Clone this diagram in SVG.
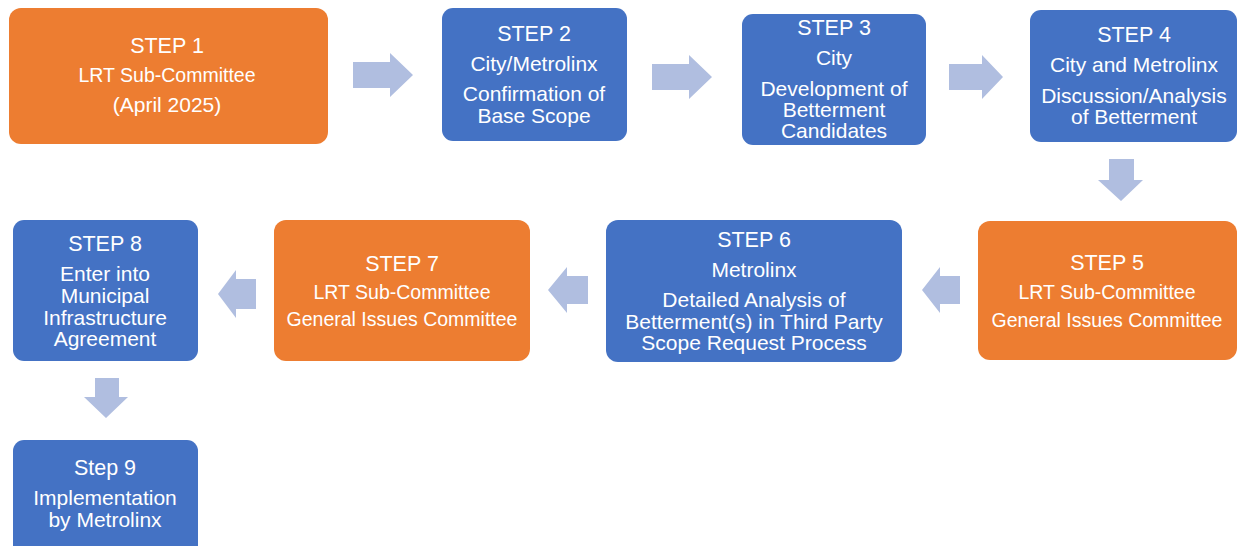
<svg xmlns="http://www.w3.org/2000/svg" width="1238" height="546" viewBox="0 0 1238 546">
<style>
.o{fill:#ED7D31}
.b{fill:#4472C4}
.a{fill:#B0BEE0}
text{font-family:"Liberation Sans",Arial,sans-serif;fill:#fff;text-anchor:middle;font-size:21px}
.h{font-size:21.5px}
.s{font-size:19.5px}
</style>
<rect width="1238" height="546" fill="#fff"/>
<g id="connectors">
<polygon class="a" points="353,62 390,62 390,53 413,75 390,97 390,88 353,88"/>
<polygon class="a" points="652,64 689,64 689,55 712,77 689,99 689,90 652,90"/>
<polygon class="a" points="949,64 982,64 982,55 1003,77 982,99 982,90 949,90"/>
<polygon class="a" points="1109,159 1134,159 1134,180 1143,180 1121,201 1098,180 1109,180"/>
<polygon class="a" points="960,276 940,276 940,267 922,290 940,313 940,304 960,304"/>
<polygon class="a" points="588,276 567,276 567,267 548,290 567,313 567,304 588,304"/>
<polygon class="a" points="256,279 236,279 236,270 218,294 236,318 236,309 256,309"/>
<polygon class="a" points="95,378 119,378 119,397 128,397 106,418 84,397 95,397"/>
</g>
<g id="step1">
<rect class="o" x="9" y="8" width="319" height="136" rx="12"/>
<text class="h" x="167" y="53">STEP 1</text>
<text class="s" x="167" y="82">LRT Sub-Committee</text>
<text x="167" y="112">(April 2025)</text>
</g>
<g id="step2">
<rect class="b" x="442" y="8" width="185" height="133" rx="11"/>
<text class="h" x="534" y="41">STEP 2</text>
<text x="534" y="71">City/Metrolinx</text>
<text x="534" y="101">Confirmation of</text>
<text x="534" y="123">Base Scope</text>
</g>
<g id="step3">
<rect class="b" x="742" y="14" width="184" height="131" rx="11"/>
<text class="h" x="834" y="35">STEP 3</text>
<text x="834" y="65">City</text>
<text x="834" y="96">Development of</text>
<text x="834" y="117">Betterment</text>
<text x="834" y="138">Candidates</text>
</g>
<g id="step4">
<rect class="b" x="1030" y="10" width="207" height="132" rx="11"/>
<text class="h" x="1134" y="42">STEP 4</text>
<text x="1134" y="72">City and Metrolinx</text>
<text x="1134" y="103">Discussion/Analysis</text>
<text x="1134" y="124">of Betterment</text>
</g>
<g id="step5">
<rect class="o" x="978" y="221" width="259" height="139" rx="12"/>
<text class="h" x="1107" y="270">STEP 5</text>
<text class="s" x="1107" y="299">LRT Sub-Committee</text>
<text class="s" x="1107" y="327">General Issues Committee</text>
</g>
<g id="step6">
<rect class="b" x="606" y="220" width="296" height="142" rx="12"/>
<text class="h" x="754" y="247">STEP 6</text>
<text x="754" y="277">Metrolinx</text>
<text x="754" y="307">Detailed Analysis of</text>
<text x="754" y="329">Betterment(s) in Third Party</text>
<text x="754" y="350">Scope Request Process</text>
</g>
<g id="step7">
<rect class="o" x="274" y="220" width="256" height="141" rx="12"/>
<text class="h" x="402" y="271">STEP 7</text>
<text class="s" x="402" y="299">LRT Sub-Committee</text>
<text class="s" x="402" y="326">General Issues Committee</text>
</g>
<g id="step8">
<rect class="b" x="13" y="220" width="185" height="141" rx="11"/>
<text class="h" x="105" y="251">STEP 8</text>
<text x="105" y="281">Enter into</text>
<text x="105" y="303">Municipal</text>
<text x="105" y="325">Infrastructure</text>
<text x="105" y="346">Agreement</text>
</g>
<g id="step9">
<rect class="b" x="13" y="440" width="185" height="120" rx="11"/>
<text class="h" x="105" y="475">Step 9</text>
<text x="105" y="505">Implementation</text>
<text x="105" y="527">by Metrolinx</text>
</g>
</svg>
